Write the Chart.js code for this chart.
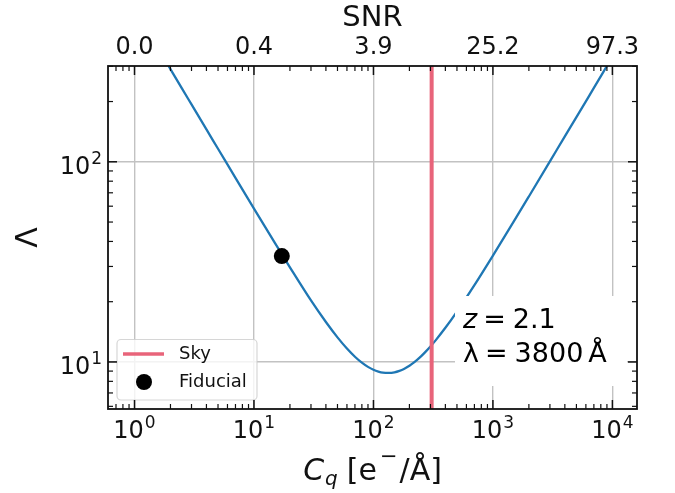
<!DOCTYPE html>
<html>
<head>
<meta charset="utf-8">
<script src="https://cdn.jsdelivr.net/npm/chart.js@4.4.0/dist/chart.umd.min.js"></script>
<style>
  html, body { margin: 0; padding: 0; background: #fff; }
  #wrap { width: 675px; height: 493px; position: relative; }
</style>
</head>
<body>
<div id="wrap"><canvas id="chart"></canvas></div>
<script>
// Lambda against C_q
const cqValues = [1.93, 2.5, 3, 4, 5, 7, 10, 15, 20, 30, 40, 50, 60, 70, 80, 90, 100, 110, 120, 135, 150, 165, 180, 200, 220, 250, 270, 300, 330, 400, 500, 700, 1000, 1500, 2000, 3000, 4000, 5000, 7000, 9000];
const lambdaValues = [301, 232, 193.4, 145.1, 116.2, 83.1, 58.3, 39.2, 29.7, 20.3, 15.84, 13.27, 11.67, 10.62, 9.92, 9.45, 9.14, 8.95, 8.84, 8.81, 8.88, 9.03, 9.23, 9.58, 9.98, 10.67, 11.17, 11.95, 12.78, 14.81, 17.86, 24.2, 34.0, 50.5, 67.1, 100.4, 134, 167, 234, 301];
const skyCq = 307;
const fiducialCq = [17.1];
const fiducialLambda = [33.8];

// axes
const xRange = [0.627, 16070];
const yRange = [5.82, 301];
const xMajorTicks = [1, 10, 100, 1000, 10000];
const yMajorTicks = [10, 100];
const snrTickLabels = ['0.0', '0.4', '3.9', '25.2', '97.3'];

const FAMILY = '"DejaVu Sans", sans-serif';
const BLUE = '#1f77b4';
const SKY_RED = '#e8647a';

function font(size, style) {
    return (style ? style + ' ' : '') + size + 'px ' + FAMILY;
}

function minorTicks(min, max) {
    const out = [];
    for (let d = Math.floor(Math.log10(min)); d <= Math.ceil(Math.log10(max)); d++) {
        for (let m = 2; m <= 9; m++) {
            const v = m * Math.pow(10, d);
            if (v > min && v < max) out.push(v);
        }
    }
    return out;
}

// "10" with a raised exponent, like mathtext
function drawPow(ctx, exp, x, y, align) {
    ctx.font = font(24);
    const wBase = ctx.measureText('10').width;
    ctx.font = font(17);
    const wExp = ctx.measureText(String(exp)).width;
    const total = wBase + 1 + wExp;
    const x0 = align === 'right' ? x - total : x - total / 2;
    ctx.textAlign = 'left';
    ctx.textBaseline = 'alphabetic';
    ctx.font = font(24);
    ctx.fillText('10', x0, y);
    ctx.font = font(17);
    ctx.fillText(String(exp), x0 + wBase + 1, y - 10);
}

// pieces: [text, font, dx before, dy]
function drawPieces(ctx, pieces, x, y, align) {
    let total = 0;
    pieces.forEach(p => {
        ctx.font = p[1];
        total += (p[2] || 0) + ctx.measureText(p[0]).width;
    });
    let cx = align === 'center' ? x - total / 2 : x;
    ctx.textAlign = 'left';
    ctx.textBaseline = 'alphabetic';
    pieces.forEach(p => {
        ctx.font = p[1];
        cx += p[2] || 0;
        ctx.fillText(p[0], cx, y + (p[3] || 0));
        cx += ctx.measureText(p[0]).width;
    });
}

const mplAxes = {
    id: 'mplAxes',
    afterDraw(chart) {
        const ctx = chart.ctx;
        const area = chart.chartArea;
        const xs = chart.scales.x;
        const ys = chart.scales.y;
        ctx.save();

        // annotation box
        ctx.fillStyle = '#fff';
        ctx.fillRect(455, 296, 172, 90);
        ctx.fillStyle = '#000';
        drawPieces(ctx, [['z', font(27, 'italic')], ['=', font(27), 6], ['2.1', font(27), 7]], 463, 328);
        drawPieces(ctx, [['\u03bb', font(27)], ['=', font(27), 6], ['3800', font(27), 7], ['\u00c5', font(27), 5]], 463, 362);

        // legend
        ctx.beginPath();
        ctx.roundRect(117, 339.5, 140, 60.5, 4);
        ctx.fillStyle = 'rgba(255,255,255,0.8)';
        ctx.fill();
        ctx.strokeStyle = 'rgba(204,204,204,0.8)';
        ctx.lineWidth = 1.2;
        ctx.stroke();
        ctx.strokeStyle = SKY_RED;
        ctx.lineWidth = 3.5;
        ctx.beginPath();
        ctx.moveTo(123, 354);
        ctx.lineTo(164, 354);
        ctx.stroke();
        ctx.fillStyle = '#000';
        ctx.beginPath();
        ctx.arc(144, 382, 8, 0, Math.PI * 2);
        ctx.fill();
        ctx.font = font(18);
        ctx.textAlign = 'left';
        ctx.textBaseline = 'middle';
        ctx.fillStyle = '#111';
        ctx.fillText('Sky', 179, 354);
        ctx.fillText('Fiducial', 179, 382);

        // frame
        ctx.strokeStyle = '#111';
        ctx.lineWidth = 1.8;
        ctx.strokeRect(area.left, area.top, area.right - area.left, area.bottom - area.top);

        // inward ticks on all four sides
        ctx.lineWidth = 1.5;
        const tick = (x1, y1, x2, y2) => {
            ctx.beginPath();
            ctx.moveTo(x1, y1);
            ctx.lineTo(x2, y2);
            ctx.stroke();
        };
        const xMinor = minorTicks(xRange[0], xRange[1]);
        const yMinor = minorTicks(yRange[0], yRange[1]);
        xMajorTicks.forEach(v => {
            const px = xs.getPixelForValue(v);
            tick(px, area.bottom, px, area.bottom - 9);
            tick(px, area.top, px, area.top + 9);
        });
        yMajorTicks.forEach(v => {
            const py = ys.getPixelForValue(v);
            tick(area.left, py, area.left + 9, py);
            tick(area.right, py, area.right - 9, py);
        });
        ctx.lineWidth = 1.2;
        xMinor.forEach(v => {
            const px = xs.getPixelForValue(v);
            tick(px, area.bottom, px, area.bottom - 5);
            tick(px, area.top, px, area.top + 5);
        });
        yMinor.forEach(v => {
            const py = ys.getPixelForValue(v);
            tick(area.left, py, area.left + 5, py);
            tick(area.right, py, area.right - 5, py);
        });

        // tick labels
        ctx.fillStyle = '#111';
        xMajorTicks.forEach(v => {
            drawPow(ctx, Math.round(Math.log10(v)), xs.getPixelForValue(v), 438, 'center');
        });
        yMajorTicks.forEach(v => {
            drawPow(ctx, Math.round(Math.log10(v)), area.left - 6, ys.getPixelForValue(v) + 12, 'right');
        });
        ctx.font = font(24);
        ctx.textAlign = 'center';
        ctx.textBaseline = 'alphabetic';
        xMajorTicks.forEach((v, i) => {
            ctx.fillText(snrTickLabels[i], xs.getPixelForValue(v), 54);
        });

        // axis titles
        const midX = (area.left + area.right) / 2;
        ctx.font = font(29);
        ctx.fillText('SNR', midX, 26);
        drawPieces(ctx, [
            ['C', font(30, 'italic')],
            ['q', font(20, 'italic'), 1, 5],
            ['[', font(30), 9],
            ['e', font(30)],
            ['\u2212', font(21), 3, -17],
            ['/\u00c5]', font(30), 2]
        ], midX, 480, 'center');
        ctx.save();
        ctx.translate(29, (area.top + area.bottom) / 2);
        ctx.rotate(-Math.PI / 2);
        ctx.font = font(30);
        ctx.textAlign = 'center';
        ctx.textBaseline = 'middle';
        ctx.fillText('\u039b', 0, 0);
        ctx.restore();

        ctx.restore();
    }
};

const curveData = cqValues.map((c, i) => ({ x: c, y: lambdaValues[i] }));
const skyData = [{ x: skyCq, y: yRange[0] }, { x: skyCq, y: yRange[1] }];
const fiducialData = fiducialCq.map((c, i) => ({ x: c, y: fiducialLambda[i] }));

new Chart(document.getElementById('chart'), {
    type: 'scatter',
    data: {
        datasets: [
            {
                label: 'Fiducial',
                data: fiducialData,
                backgroundColor: '#000',
                borderWidth: 0,
                pointRadius: 8,
                order: 0
            },
            {
                label: 'Sky',
                data: skyData,
                showLine: true,
                borderColor: SKY_RED,
                borderWidth: 4,
                pointRadius: 0,
                order: 1
            },
            {
                label: 'Lambda',
                data: curveData,
                showLine: true,
                borderColor: BLUE,
                borderWidth: 2.3,
                pointRadius: 0,
                cubicInterpolationMode: 'monotone',
                order: 2
            }
        ]
    },
    options: {
        responsive: true,
        maintainAspectRatio: false,
        animation: false,
        layout: { padding: { left: 108, right: 38, top: 66, bottom: 84 } },
        plugins: {
            legend: { display: false },
            tooltip: { enabled: false }
        },
        scales: {
            x: {
                type: 'logarithmic',
                min: xRange[0],
                max: xRange[1],
                ticks: { display: false },
                grid: { color: '#c2c2c2', lineWidth: 1.4, drawTicks: false },
                border: { display: false },
                afterBuildTicks: s => { s.ticks = xMajorTicks.map(v => ({ value: v })); },
                afterFit: s => { s.height = 0; }
            },
            y: {
                type: 'logarithmic',
                min: yRange[0],
                max: yRange[1],
                ticks: { display: false },
                grid: { color: '#c2c2c2', lineWidth: 1.4, drawTicks: false },
                border: { display: false },
                afterBuildTicks: s => { s.ticks = yMajorTicks.map(v => ({ value: v })); },
                afterFit: s => { s.width = 0; }
            }
        }
    },
    plugins: [mplAxes]
});
</script>
</body>
</html>
